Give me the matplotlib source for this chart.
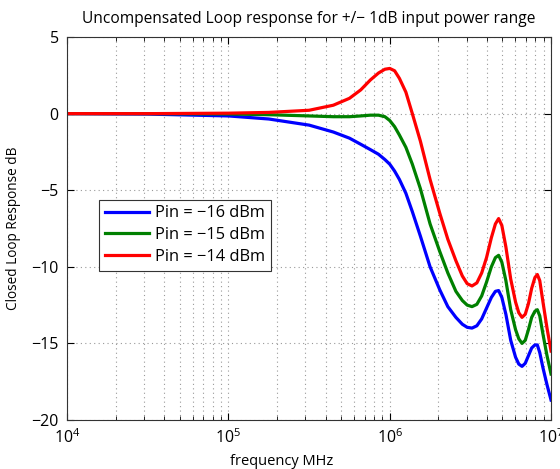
import numpy as np
import matplotlib
matplotlib.use("Agg")
import matplotlib.pyplot as plt
from matplotlib.ticker import LogLocator

plt.rcParams['font.family'] = ['Open Sans', 'DejaVu Sans']

log_freq = [4.0, 4.5, 5.0, 5.25, 5.5, 5.65, 5.75, 5.82, 5.88, 5.93, 5.97, 6.0, 6.03,
            6.06, 6.1, 6.14, 6.19, 6.25, 6.31, 6.36, 6.41, 6.45, 6.48, 6.51, 6.54,
            6.57, 6.6, 6.63, 6.655, 6.675, 6.695, 6.72, 6.75, 6.78, 6.8, 6.82, 6.84,
            6.86, 6.88, 6.9, 6.915, 6.93, 6.95, 6.975, 7.0]

pin_m16 = [0, -0.03, -0.15, -0.35, -0.75, -1.2, -1.6, -2.0, -2.35, -2.65, -3.0, -3.3, -3.75,
           -4.3, -5.2, -6.4, -8.0, -10.0, -11.5, -12.6, -13.3, -13.75, -13.95, -14.0, -13.85,
           -13.4, -12.7, -12.0, -11.6, -11.55, -12.0, -13.1, -14.8, -15.9, -16.35, -16.5, -16.3,
           -15.8, -15.3, -15.1, -15.1, -15.6, -16.6, -17.7, -18.7]
pin_m15 = [0, 0, -0.02, -0.07, -0.15, -0.2, -0.2, -0.15, -0.1, -0.1, -0.2, -0.45, -0.85,
           -1.4, -2.2, -3.3, -4.9, -7.2, -9.0, -10.4, -11.6, -12.2, -12.5, -12.6, -12.45,
           -11.9, -11.0, -10.0, -9.4, -9.25, -9.7, -10.9, -12.8, -14.1, -14.7, -15.0, -14.8,
           -14.1, -13.3, -12.9, -12.8, -13.2, -14.4, -15.8, -17.0]
pin_m14 = [0, 0, 0.03, 0.08, 0.22, 0.55, 1.0, 1.55, 2.2, 2.65, 2.9, 2.95, 2.8,
           2.3, 1.4, 0.0, -1.8, -4.3, -6.5, -8.2, -9.6, -10.6, -11.1, -11.25, -11.05,
           -10.4, -9.4, -8.1, -7.2, -6.85, -7.3, -8.7, -10.8, -12.3, -13.0, -13.3, -13.1,
           -12.4, -11.4, -10.7, -10.5, -10.9, -12.3, -14.0, -15.5]

labels = ['Pin = \u221216 dBm', 'Pin = \u221215 dBm', 'Pin = \u221214 dBm']
colors = ['#0000ff', '#008000', '#ff0000']

freq = 10 ** np.array(log_freq)

fig = plt.figure(figsize=(5.6, 4.69), dpi=100)
ax = fig.add_axes([0.12, 0.1045, 0.864, 0.8165])

for vals, lab, col in zip([pin_m16, pin_m15, pin_m14], labels, colors):
    ax.semilogx(freq, vals, color=col, lw=2.3, label=lab)

ax.set_xlim(1e4, 1e7)
ax.set_ylim(-20, 5)
ax.set_yticks([-20, -15, -10, -5, 0, 5])
ax.xaxis.set_major_locator(LogLocator(base=10, numticks=10))
ax.xaxis.set_minor_locator(LogLocator(base=10, subs=np.arange(2, 10), numticks=20))
ax.grid(True, which='major', linestyle=(0, (1, 3)), color='#999999', lw=0.8)
ax.grid(True, which='minor', axis='x', linestyle=(0, (1, 3)), color='#999999', lw=0.8)
ax.tick_params(which='both', direction='in', top=True, right=True, labelsize=11.5)
ax.tick_params(which='major', length=5, pad=6)
ax.tick_params(which='minor', length=3)
for s in ax.spines.values():
    s.set_color('#333333')
    s.set_linewidth(0.8)

ax.set_title('Uncompensated Loop response for +/\u2212 1dB input power range', fontsize=11.2, pad=10)
ax.set_xlabel('frequency MHz', fontsize=10.5)
ax.xaxis.set_label_coords(0.444, -0.088)
ax.set_ylabel('Closed Loop Response dB', fontsize=9.8)
ax.yaxis.set_label_coords(-0.095, 0.5)

leg = ax.legend(loc='lower left', bbox_to_anchor=(0.066, 0.39), fontsize=11.8,
                fancybox=False, edgecolor='#333333', framealpha=1,
                handlelength=2.7, handletextpad=0.35, borderpad=0.35,
                labelspacing=0.35, borderaxespad=0)
leg.get_frame().set_linewidth(0.8)

fig.savefig('out.png', dpi=100)
